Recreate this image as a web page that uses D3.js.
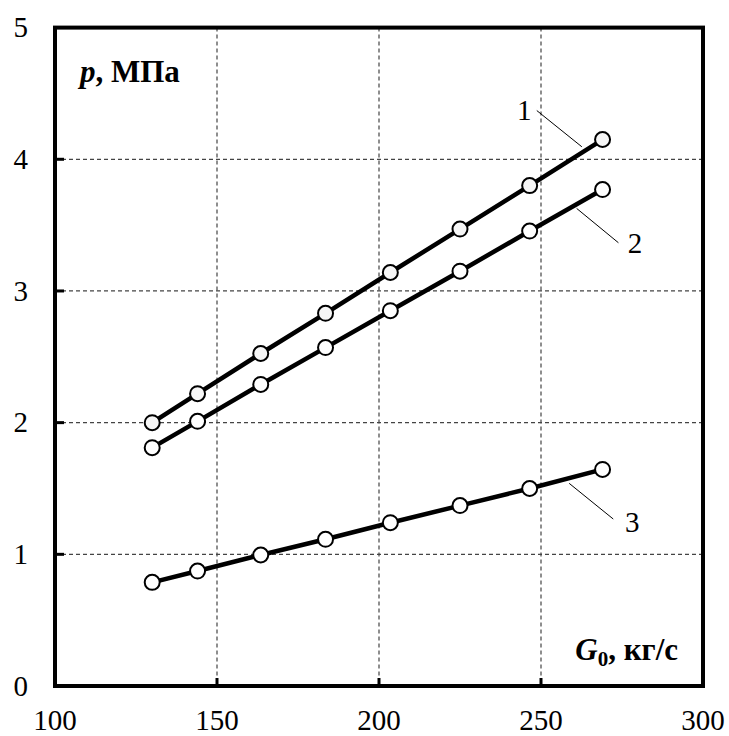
<!DOCTYPE html>
<html>
<head>
<meta charset="utf-8">
<script src="https://cdn.jsdelivr.net/npm/d3@7"></script>
<style>
  body { margin: 0; background: #fff; }
</style>
</head>
<body>
<svg id="chart"></svg>
<script>
// G0, kg/s
const flow = [130, 144, 163.5, 183.5, 203.5, 225, 246.5, 269];
// p, MPa for each curve
const curve1 = [2.0, 2.22, 2.525, 2.83, 3.14, 3.47, 3.80, 4.15];
const curve2 = [1.81, 2.01, 2.29, 2.57, 2.85, 3.15, 3.455, 3.77];
const curve3 = [0.787, 0.873, 0.995, 1.114, 1.24, 1.37, 1.50, 1.645];
const curveNames = ["1", "2", "3"];
// callouts (data units): label centre, leader start, leader end
const labelAt = [[244.8, 4.375], [279.0, 3.361], [278.2, 1.241]];
const leaderFrom = [[248.7, 4.37], [261.0, 3.627], [258.7, 1.539]];
const leaderTo = [[262.6, 4.095], [273.9, 3.366], [272.3, 1.268]];

const xTicks = [100, 150, 200, 250, 300];
const yTicks = [0, 1, 2, 3, 4, 5];

const FONT = "'Liberation Serif', 'Times New Roman', 'DejaVu Serif', serif";
const W = 729, H = 736;
const margin = {top: 27.6, right: 26, bottom: 50, left: 55};
const width = W - margin.left - margin.right;
const height = H - margin.top - margin.bottom;

const svg = d3.select("#chart").attr("width", W).attr("height", H)
  .attr("font-family", FONT);
const g = svg.append("g").attr("transform", `translate(${margin.left},${margin.top})`);

const x = d3.scaleLinear().domain([100, 300]).range([0, width]);
const y = d3.scaleLinear().domain([0, 5]).range([height, 0]);

// grid
g.selectAll(".gx").data(xTicks.slice(1, -1)).join("line")
  .attr("x1", d => x(d)).attr("x2", d => x(d))
  .attr("y1", 0).attr("y2", height)
  .attr("stroke", "#444").attr("stroke-width", 1.2).attr("stroke-dasharray", "4,3");
g.selectAll(".gy").data(yTicks.slice(1, -1)).join("line")
  .attr("y1", d => y(d)).attr("y2", d => y(d))
  .attr("x1", 0).attr("x2", width)
  .attr("stroke", "#444").attr("stroke-width", 1.2).attr("stroke-dasharray", "4,3");

// inner tick marks
g.selectAll(".tx").data(xTicks.slice(1, -1)).join("line")
  .attr("x1", d => x(d)).attr("x2", d => x(d))
  .attr("y1", height).attr("y2", height - 8)
  .attr("stroke", "#000").attr("stroke-width", 3);
g.selectAll(".ty").data(yTicks.slice(1, -1)).join("line")
  .attr("y1", d => y(d)).attr("y2", d => y(d))
  .attr("x1", 0).attr("x2", 9)
  .attr("stroke", "#000").attr("stroke-width", 3);

// frame
g.append("rect").attr("width", width).attr("height", height)
  .attr("fill", "none").attr("stroke", "#000").attr("stroke-width", 4);

// tick labels
g.selectAll(".lx").data(xTicks).join("text")
  .attr("x", d => x(d)).attr("y", height + 44)
  .attr("text-anchor", "middle").attr("font-size", 29)
  .text(d => d);
g.selectAll(".ly").data(yTicks).join("text")
  .attr("x", -27).attr("y", d => y(d)).attr("dy", "0.34em")
  .attr("text-anchor", "end").attr("font-size", 29)
  .text(d => d);

// curves
const series = [curve1, curve2, curve3].map(vals => flow.map((f, i) => [f, vals[i]]));
const line = d3.line().x(d => x(d[0])).y(d => y(d[1]));

series.forEach((pts, k) => {
  g.append("path").datum(pts)
    .attr("d", line).attr("fill", "none")
    .attr("stroke", "#000").attr("stroke-width", 4.5);
  g.selectAll(".c" + k).data(pts).join("circle")
    .attr("cx", d => x(d[0])).attr("cy", d => y(d[1])).attr("r", 7.5)
    .attr("fill", k === 0 ? "#f6f6f6" : "#fff")
    .attr("stroke", "#000").attr("stroke-width", 2);

  g.append("line")
    .attr("x1", x(leaderFrom[k][0])).attr("y1", y(leaderFrom[k][1]))
    .attr("x2", x(leaderTo[k][0])).attr("y2", y(leaderTo[k][1]))
    .attr("stroke", "#000").attr("stroke-width", 1);
  g.append("text")
    .attr("x", x(labelAt[k][0])).attr("y", y(labelAt[k][1])).attr("dy", "0.34em")
    .attr("text-anchor", "middle").attr("font-size", 29)
    .text(curveNames[k]);
});

// axis titles
const yt = svg.append("text").attr("x", 80).attr("y", 82)
  .attr("font-size", 31).attr("font-weight", "bold");
yt.append("tspan").attr("font-style", "italic").text("p");
yt.append("tspan").text(", МПа");

const xt = svg.append("text").attr("x", 678).attr("y", 660)
  .attr("text-anchor", "end").attr("font-size", 31).attr("font-weight", "bold");
xt.append("tspan").attr("font-style", "italic").text("G");
xt.append("tspan").attr("font-size", 21).attr("dy", 6).text("0");
xt.append("tspan").attr("dy", -6).text(", кг/с");
</script>
</body>
</html>
